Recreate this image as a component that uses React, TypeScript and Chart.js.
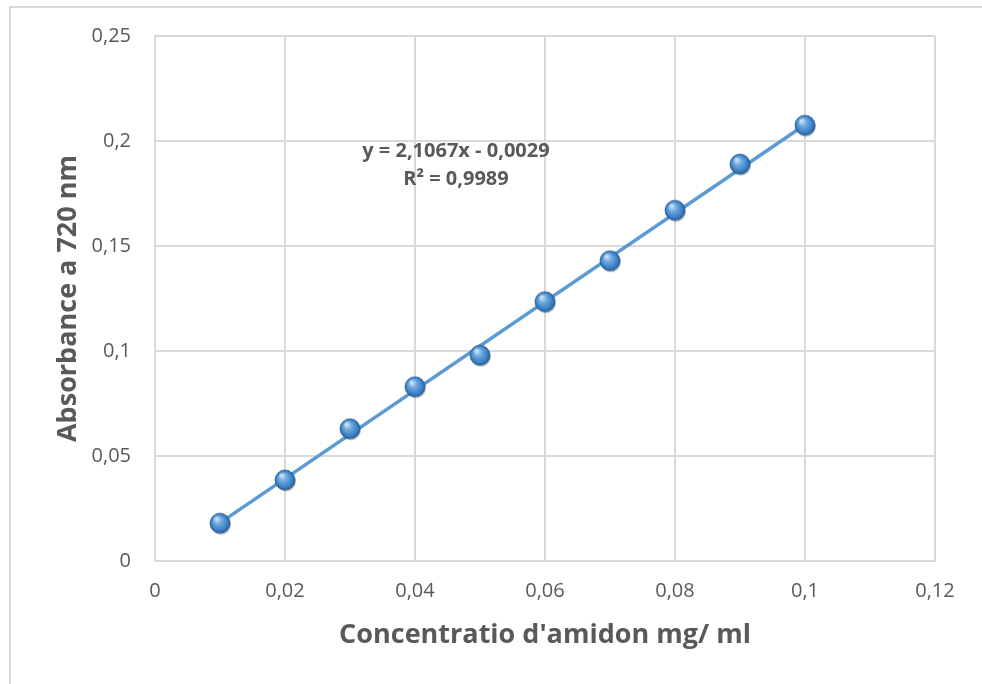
import React, { useEffect, useRef } from "react";
import { Chart, registerables } from "chart.js";

Chart.register(...registerables);

const concentrations = [0.01, 0.02, 0.03, 0.04, 0.05, 0.06, 0.07, 0.08, 0.09, 0.1];
const absorbances = [0.018, 0.0386, 0.063, 0.083, 0.098, 0.1235, 0.143, 0.167, 0.189, 0.2075];
const slope = 2.1067;
const intercept = -0.0029;
const equationLines = ["y = 2,1067x - 0,0029", "R² = 0,9989"];
const xTitle = "Concentratio d'amidon mg/ ml";
const yTitle = "Absorbance a 720 nm";

const FONT = "'Open Sans', 'Liberation Sans', sans-serif";
const TEXT = "#595959";
const GRID = "#d9d9d9";
const BLUE = "#5b9bd5";

function fmt(v: number) {
  return String(Math.round(v * 1000) / 1000).replace(".", ",");
}

function makeSphere(r: number) {
  const size = Math.ceil(r * 2 + 6);
  const c = document.createElement("canvas");
  c.width = size;
  c.height = size;
  const ctx = c.getContext("2d")!;
  const cx = size / 2;
  const cy = size / 2;
  ctx.beginPath();
  ctx.arc(cx + 1, cy + 1.5, r, 0, Math.PI * 2);
  ctx.fillStyle = "rgba(0,0,0,0.25)";
  ctx.fill();
  const g = ctx.createRadialGradient(cx - r * 0.35, cy - r * 0.45, r * 0.1, cx, cy, r);
  g.addColorStop(0, "#c5def6");
  g.addColorStop(0.35, "#6fa8de");
  g.addColorStop(0.8, "#3a7fc6");
  g.addColorStop(1, "#275d98");
  ctx.beginPath();
  ctx.arc(cx, cy, r, 0, Math.PI * 2);
  ctx.fillStyle = g;
  ctx.fill();
  ctx.lineWidth = 0.8;
  ctx.strokeStyle = "#2b5f96";
  ctx.stroke();
  return c;
}

const equationPlugin = {
  id: "equationLabel",
  afterDatasetsDraw(chart: any) {
    const { ctx, scales } = chart;
    const x = scales.x.getPixelForValue(0.0463);
    const ys = [scales.y.getPixelForValue(0.1953), scales.y.getPixelForValue(0.182)];
    ctx.save();
    ctx.font = `bold 20px ${FONT}`;
    ctx.fillStyle = TEXT;
    ctx.textAlign = "center";
    ctx.textBaseline = "middle";
    equationLines.forEach((t, i) => ctx.fillText(t, x, ys[i]));
    ctx.restore();
  },
};

export default function App() {
  const ref = useRef<HTMLCanvasElement | null>(null);

  useEffect(() => {
    if (!ref.current) return;
    const sphere = makeSphere(10);
    const points = concentrations.map((x, i) => ({ x, y: absorbances[i] }));
    const xMin = concentrations[0];
    const xMax = concentrations[concentrations.length - 1];
    const trend = [
      { x: xMin, y: slope * xMin + intercept },
      { x: xMax, y: slope * xMax + intercept },
    ];
    const chart = new Chart(ref.current, {
      type: "scatter",
      data: {
        datasets: [
          {
            data: points,
            pointStyle: sphere as any,
            pointRadius: 10,
            showLine: false,
            backgroundColor: BLUE,
            borderColor: BLUE,
          },
          {
            data: trend,
            showLine: true,
            pointRadius: 0,
            borderColor: BLUE,
            borderWidth: 3.5,
            backgroundColor: BLUE,
          },
        ],
      },
      options: {
        animation: false,
        responsive: false,
        maintainAspectRatio: false,
        layout: { padding: { top: 35, right: 47, left: 0, bottom: 0 } },
        plugins: {
          legend: { display: false },
          tooltip: { enabled: false },
        },
        scales: {
          x: {
            type: "linear",
            min: 0,
            max: 0.12,
            afterFit: (s: any) => {
              s.height = 123;
            },
            ticks: {
              stepSize: 0.02,
              padding: 18,
              color: TEXT,
              font: { family: FONT, size: 20 },
              callback: (v: any) => fmt(Number(v)),
            },
            grid: { color: GRID, lineWidth: 2, drawTicks: false },
            border: { color: GRID, width: 2 },
            title: {
              display: true,
              text: xTitle,
              color: TEXT,
              font: { family: FONT, size: 27, weight: "bold" },
              padding: { top: 0, bottom: 32 },
            },
          },
          y: {
            type: "linear",
            min: 0,
            max: 0.25,
            afterFit: (s: any) => {
              s.width = 155;
            },
            ticks: {
              stepSize: 0.05,
              padding: 24,
              color: TEXT,
              font: { family: FONT, size: 20 },
              callback: (v: any) => fmt(Number(v)),
            },
            grid: { color: GRID, lineWidth: 2, drawTicks: false },
            border: { color: GRID, width: 2 },
            title: {
              display: true,
              text: yTitle,
              color: TEXT,
              font: { family: FONT, size: 27, weight: "bold" },
              padding: { top: 52, bottom: 0 },
            },
          },
        },
      },
      plugins: [equationPlugin],
    });
    return () => chart.destroy();
  }, []);

  return (
    <div
      style={{
        position: "fixed",
        left: 0,
        top: 0,
        width: 982,
        height: 684,
        background: "#fff",
        overflow: "hidden",
      }}
    >
      <div
        style={{
          position: "absolute",
          left: 9,
          top: 6,
          width: 1000,
          height: 720,
          border: `2px solid ${GRID}`,
          boxSizing: "border-box",
        }}
      />
      <canvas
        ref={ref}
        width={982}
        height={684}
        style={{ position: "absolute", left: 0, top: 0, width: 982, height: 684 }}
      />
    </div>
  );
}
